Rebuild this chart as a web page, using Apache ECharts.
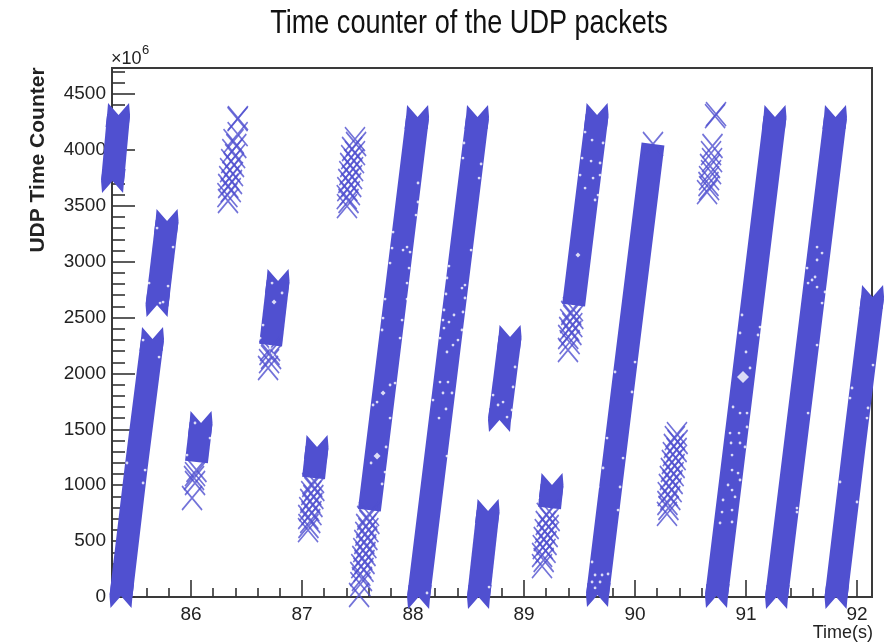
<!DOCTYPE html>
<html>
<head>
<meta charset="utf-8">
<style>html,body{margin:0;padding:0;background:#fff}#c{width:892px;height:643px;filter:blur(0.45px)}</style>
<script src="https://cdn.jsdelivr.net/npm/echarts@6/dist/echarts.min.js"></script>
</head>
<body>
<div id="c"></div>
<script>
const xMajorTicks=[86,87,88,89,90,91,92];
const xMinorTicks=[85.4,85.6,85.8,86.2,86.4,86.6,86.8,87.2,87.4,87.6,87.8,88.2,88.4,88.6,88.8,89.2,89.4,89.6,89.8,90.2,90.4,90.6,90.8,91.2,91.4,91.6,91.8];
const yMajorTicks=[0,500,1000,1500,2000,2500,3000,3500,4000,4500];
const yMinorTicks=[100,200,300,400,600,700,800,900,1100,1200,1300,1400,1600,1700,1800,1900,2100,2200,2300,2400,2600,2700,2800,2900,3100,3200,3300,3400,3600,3700,3800,3900,4100,4200,4300,4400,4600,4700];

// solid stretches of packets: [time, counter], earliest first
const band0=[[85.293,3722],[85.320,4017],[85.347,4312]];
const band1=[[85.369,9],[85.505,1154],[85.653,2308]];
const band2=[[85.694,2612],[85.784,3364]];
const band3=[[86.049,1208],[86.090,1557]];
const band5=[[86.717,2254],[86.784,2827]];
const band6=[[87.104,1065],[87.135,1342]];
const band8=[[87.607,778],[87.824,2532],[88.041,4294]];
const band9=[[88.050,0],[88.315,2147],[88.581,4294]];
const band10=[[88.590,0],[88.676,769]];
const band11=[[88.779,1583],[88.874,2326]];
const band12=[[89.230,796],[89.252,1002]];
const band13=[[89.447,2612],[89.552,3462],[89.658,4312]];
const band14=[[89.662,18],[89.910,2031],[90.162,4053]];
const band17=[[90.734,9],[90.994,2120],[91.261,4294]];
const band18=[[91.275,0],[91.541,2147],[91.806,4294]];
const band19=[[91.811,0],[91.973,1342],[92.140,2684]];
const solidBands=[band0,band1,band2,band3,band5,band6,band8,band9,band10,band11,band12,band13,band14,band17,band18,band19];
const noBottomNotch=[band3,band5,band6,band8,band12,band13];
const noTopNotch=[band14];

// individually visible packets
const sparse3=[[86.049,1136],[86.036,1100],[86.027,1065],[86.036,1020],[86.009,886]];
const sparse4=[[86.423,4285],[86.419,4276],[86.420,4142],[86.383,4079],[86.408,4035],[86.372,3990],[86.397,3945],[86.362,3900],[86.387,3865],[86.352,3820],[86.378,3784],[86.344,3748],[86.369,3713],[86.335,3677],[86.358,3641],[86.328,3596],[86.333,3543]];
const sparse5=[[86.712,2219],[86.707,2183],[86.721,2147],[86.703,2111],[86.694,2049]];
const sparse6=[[87.108,1038],[87.092,1002],[87.111,966],[87.083,930],[87.102,895],[87.074,859],[87.094,823],[87.065,787],[87.085,751],[87.056,716],[87.074,680],[87.058,635],[87.054,599]];
const sparse7=[[87.477,4097],[87.487,4053],[87.451,4008],[87.477,3972],[87.443,3936],[87.468,3900],[87.434,3865],[87.460,3829],[87.426,3793],[87.451,3757],[87.417,3722],[87.443,3686],[87.408,3650],[87.431,3614],[87.403,3578],[87.419,3543],[87.405,3497]];
const sparse8=[[87.604,743],[87.587,707],[87.607,671],[87.578,635],[87.598,599],[87.570,564],[87.589,528],[87.561,492],[87.580,456],[87.552,420],[87.572,385],[87.543,349],[87.563,313],[87.534,277],[87.554,242],[87.525,206],[87.540,161],[87.526,116],[87.514,18]];
const sparse12=[[89.225,769],[89.205,734],[89.231,698],[89.196,662],[89.222,626],[89.187,590],[89.213,555],[89.178,519],[89.203,483],[89.169,447],[89.194,412],[89.163,376],[89.177,331],[89.162,277]];
const sparse13=[[89.441,2576],[89.425,2541],[89.444,2505],[89.416,2469],[89.435,2433],[89.407,2398],[89.427,2362],[89.398,2326],[89.411,2281],[89.396,2210]];
const sparse14=[[90.162,4053]];
const sparse15=[[90.378,1458],[90.359,1422],[90.384,1387],[90.350,1351],[90.375,1315],[90.341,1279],[90.366,1243],[90.332,1208],[90.357,1172],[90.323,1136],[90.348,1100],[90.314,1065],[90.339,1029],[90.305,993],[90.330,957],[90.295,921],[90.318,886],[90.292,841],[90.301,796],[90.288,743]];
const sparse16=[[90.730,4321],[90.721,4303],[90.698,4035],[90.685,3972],[90.694,3909],[90.676,3856],[90.685,3802],[90.667,3748],[90.662,3695],[90.667,3659],[90.649,3623]];
const sparsePackets=[sparse3,sparse4,sparse5,sparse6,sparse7,sparse8,sparse12,sparse13,sparse14,sparse15,sparse16];

// small gaps left inside the solid stretches
const gapsA=[[90.883,1700],[90.946,1646],[90.856,1467],[90.937,1467],[90.865,1378],[90.946,1378],[90.874,1270],[90.874,1136],[90.928,1109],[90.838,1002],[90.874,957],[90.793,868],[90.874,778],[90.784,760],[90.874,671],[90.766,662],[91.009,1646],[91.009,1521],[90.991,1342],[90.946,1047],[90.901,895],[91.036,2049],[90.964,2523],[90.946,2362],[91.108,2344],[91.000,2192],[91.126,2415]];
const gapsB=[[88.045,3704],[88.045,3534],[88.027,3417],[87.820,3265],[87.811,3122],[87.910,3104],[87.946,3131],[87.973,3086],[87.793,2988],[87.964,2943],[87.946,2809],[87.748,2666],[87.946,2666],[87.730,2496],[87.901,2478],[87.721,2389],[87.883,2317],[87.622,1199],[87.757,1342],[87.748,1118],[87.721,1011],[87.793,1601],[87.640,1718],[87.676,1744],[87.793,1897],[87.838,1914]];
const gapsC=[[88.459,4062],[88.450,3927],[88.613,3874],[88.595,3748],[88.523,3104],[88.324,2961],[88.306,2854],[88.441,2764],[88.468,2791],[88.297,2711],[88.468,2675],[88.450,2550],[88.279,2568],[88.369,2523],[88.270,2478],[88.324,2460],[88.441,2389],[88.279,2406],[88.243,2317],[88.405,2299],[88.360,2254],[88.306,2192],[88.243,1923],[88.315,1923],[88.270,1825],[88.351,1825],[88.180,1762],[88.297,1682],[88.234,1601],[88.306,1261],[88.685,89],[88.126,36]];
const gapsD=[[89.550,4160],[89.613,4088],[89.712,4062],[89.523,3927],[89.604,3900],[89.685,3883],[89.505,3775],[89.622,3748],[89.550,3659],[89.685,3775],[89.667,3596],[89.640,3552],[90.000,2102],[89.820,2013],[89.748,1422],[89.892,1243],[89.712,1154],[89.865,984],[89.667,984],[89.847,778],[89.613,313],[89.703,197],[89.640,197],[89.757,206],[89.613,134],[89.685,134],[89.640,81],[89.973,1834]];
const gapsE=[[91.640,2254],[91.559,1646],[91.459,796],[91.459,760],[91.640,3131],[91.685,3077],[91.640,3015],[91.550,2943],[91.622,2863],[91.595,2836],[91.559,2809],[91.640,2773],[91.712,2729],[91.685,2630],[92.144,2075],[91.955,1870],[91.937,1780],[92.099,1691],[92.090,1601],[91.847,1029],[92.000,850]];
const gapsF=[[88.919,2058],[88.721,1807],[88.901,1879],[88.811,1744],[88.766,1718],[88.892,1673],[88.847,1610],[85.694,3301],[85.838,3131],[85.622,2809],[85.793,2782],[85.748,2639],[85.721,2630],[86.730,2809],[86.820,2720],[86.649,2433],[86.622,2317],[86.712,2228],[86.739,2165],[86.036,1557],[86.171,1422],[85.964,1270],[85.586,1136],[85.568,1020],[85.423,1199],[85.712,2147],[85.568,2299]];
const holes=[[90.973,1968,12],[87.676,1261,7],[87.730,1825,5],[89.486,3059,5],[86.748,2639,5]];

const fontName='Liberation Sans';
const purple='#5050d0';
const xSym='path://M0 0L20 24M20 0L0 24';
const capTop='path://M2.5 0L13 12L23.5 0L24.5 12L23 24L0 24L1.5 12Z';
const capBottom='path://M23.5 24L13 12L2.5 24L1.5 12L3 0L26 0L24.5 12Z';

const series=[];
solidBands.forEach(b=>{
  series.push({type:'line',clip:false,silent:true,animation:false,showAllSymbol:true,z:2,
    lineStyle:{color:purple,width:23,cap:'butt',join:'miter'},
    itemStyle:{color:purple,borderWidth:0},
    data:b.map((p,i)=>{
      let o={value:p,symbol:'none'};
      if(i===0&&!noBottomNotch.includes(b))o={value:p,symbol:capBottom,symbolSize:[24.5,24],symbolOffset:[0.75,0]};
      if(i===b.length-1&&!noTopNotch.includes(b))o={value:p,symbol:capTop,symbolSize:[24.5,24],symbolOffset:[-0.75,0]};
      return o;
    })});
});
sparsePackets.forEach(d=>{
  series.push({type:'scatter',clip:false,silent:true,animation:false,z:2,symbol:xSym,symbolSize:[20,24],
    itemStyle:{color:'none',borderColor:purple,borderWidth:1.7},data:d});
});
series.push({type:'scatter',clip:false,silent:true,animation:false,z:3,symbol:'circle',symbolSize:2.8,
  itemStyle:{color:'#fff'},data:[].concat(gapsA,gapsB,gapsC,gapsD,gapsE,gapsF)});
series.push({type:'scatter',clip:false,silent:true,animation:false,z:3,symbol:'diamond',
  symbolSize:v=>v[2],itemStyle:{color:'#fff'},data:holes});

const line={show:true,onZero:false,lineStyle:{color:'#3a3a3a',width:2}};
const xRange={min:85.288,max:92.135,type:'value',gridIndex:0,position:'bottom',splitLine:{show:false}};
const yRange={min:0,max:4733,type:'value',gridIndex:0,position:'left',splitLine:{show:false}};
const plain=v=>String(v);
const option={
  animation:false,
  backgroundColor:'#fff',
  grid:{left:112,top:68,width:760,height:529,show:true,borderColor:'#3a3a3a',borderWidth:2,backgroundColor:'#fff'},
  xAxis:[
    Object.assign({},xRange,{axisLine:line,
      axisTick:{show:true,inside:true,length:17,customValues:xMajorTicks,lineStyle:{color:'#333',width:1.6}},
      axisLabel:{show:true,margin:8,customValues:xMajorTicks,formatter:plain,fontFamily:fontName,fontSize:19,color:'#222'}}),
    Object.assign({},xRange,{axisLine:{show:false},
      axisTick:{show:true,inside:true,length:9,customValues:xMinorTicks,lineStyle:{color:'#333',width:1.6}},
      axisLabel:{show:false}})
  ],
  yAxis:[
    Object.assign({},yRange,{axisLine:line,
      axisTick:{show:true,inside:true,length:23,customValues:yMajorTicks,lineStyle:{color:'#333',width:1.6}},
      axisLabel:{show:true,margin:6,customValues:yMajorTicks,formatter:plain,fontFamily:fontName,fontSize:19,color:'#222'}}),
    Object.assign({},yRange,{axisLine:{show:false},
      axisTick:{show:true,inside:true,length:13,customValues:yMinorTicks,lineStyle:{color:'#333',width:1.6}},
      axisLabel:{show:false}})
  ],
  graphic:[
    {type:'text',x:469,y:24,scaleX:0.82,style:{text:'Time counter of the UDP packets',textAlign:'center',textVerticalAlign:'middle',font:'33px "Liberation Sans"',fill:'#111'}},
    {type:'text',x:38,y:160,rotation:Math.PI/2,style:{text:'UDP Time Counter',textAlign:'center',textVerticalAlign:'middle',font:'bold 21px "Liberation Sans"',fill:'#222'}},
    {type:'text',x:873,y:633,style:{text:'Time(s)',textAlign:'right',textVerticalAlign:'middle',font:'18px "Liberation Sans"',fill:'#222'}},
    {type:'text',x:111,y:59,style:{text:'×10',textAlign:'left',textVerticalAlign:'middle',font:'18px "Liberation Sans"',fill:'#222'}},
    {type:'text',x:142,y:50,style:{text:'6',textAlign:'left',textVerticalAlign:'middle',font:'13px "Liberation Sans"',fill:'#222'}}
  ],
  series:series
};
echarts.init(document.getElementById('c'),null,{renderer:'canvas'}).setOption(option);
</script>
</body>
</html>
